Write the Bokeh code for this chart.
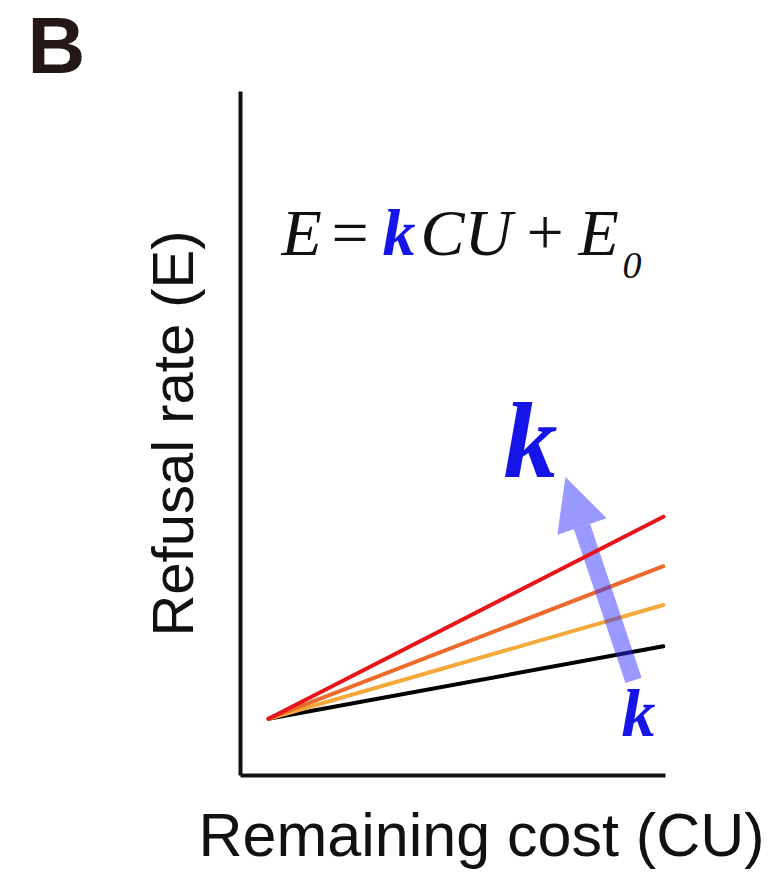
from bokeh.plotting import figure
from bokeh.models import Range1d, Label, Arrow, NormalHead, FixedTicker, Title
from bokeh.embed import file_html
from bokeh.resources import INLINE

# ---- data (conceptual model E = k*CU + E0) ----
cu_values = [0.66, 9.95]
e0 = 0.83
k_values = [0.114, 0.179, 0.240, 0.318]
line_colors = ["#000000", "#f5a93a", "#ec6a2c", "#e8161c"]
x_label = "Remaining cost (CU)"
y_label = "Refusal rate (E)"
panel_letter = "B"

# ---- page-pixel -> data helpers (frame: x 240..665, y 92..775 on page) ----
FL, FR, FT, FB = 240, 665, 92, 775
def X(px):
    return (px - FL) / (FR - FL) * 10
def Y(py):
    return (FB - py) / (FB - FT) * 10

W, H = 780, 882
p = figure(width=W, height=H, output_backend="svg", toolbar_location=None,
           x_range=Range1d(0, 10), y_range=Range1d(0, 10),
           min_border_left=FL, min_border_right=W - FR,
           min_border_top=88, min_border_bottom=H - FB)
p.outline_line_color = None
p.grid.visible = False
p.background_fill_color = "white"
p.border_fill_color = "white"

serif = "Liberation Serif"
sans = "Liberation Sans"
blue = "#1515e8"

# panel letter as the figure title
p.title.text = panel_letter
p.title.align = "left"
p.title.vertical_align = "top"
p.title.offset = -213
p.title.text_font = sans
p.title.text_font_style = "bold"
p.title.text_font_size = "80px"
p.title.text_color = "#231815"
p.title.standoff = 0

for ax in (p.xaxis[0], p.yaxis[0]):
    ax.ticker = FixedTicker(ticks=[])
    ax.major_tick_line_color = None
    ax.minor_tick_line_color = None
    ax.major_label_text_font_size = "0px"
    ax.axis_line_width = 4
    ax.axis_line_color = "#111111"

p.yaxis[0].axis_label = y_label
p.yaxis[0].axis_label_text_font = sans
p.yaxis[0].axis_label_text_font_style = "normal"
p.yaxis[0].axis_label_text_font_size = "58px"
p.yaxis[0].axis_label_text_color = "#111111"
p.yaxis[0].axis_label_standoff = 36

# spacer between the x axis and its label, then the label itself
p.add_layout(Title(text=" ", text_font_size="10px", standoff=10), "below")
p.add_layout(Title(text=x_label, align="left", offset=-42, text_font=sans,
                   text_font_style="normal", text_font_size="61px",
                   text_color="#111111", standoff=0, vertical_align="bottom"), "below")

# lines
renderers = []
for k, c in zip(k_values, line_colors):
    ys = [k * (x - cu_values[0]) + e0 for x in cu_values]
    r = p.line(cu_values, ys, line_color=c, line_width=4, line_cap="round")
    renderers.append(r)
renderers[-1].level = "overlay"

# arrow indicating increasing k
arrow = Arrow(end=NormalHead(size=52, fill_color="#2a2aff", fill_alpha=0.48, line_color=None),
              x_start=X(633), y_start=Y(680), x_end=X(565), y_end=Y(477),
              line_color="#2a2aff", line_alpha=0.48, line_width=17, line_cap="butt")
p.add_layout(arrow)

def lab(txt, px, py, size, font=serif, style="italic", color="#111111", align="left"):
    p.add_layout(Label(x=X(px), y=Y(py - 0.37 * size), text=txt, text_font=font,
                       text_font_style=style, text_font_size=f"{size}px",
                       text_color=color, text_align=align, text_baseline="alphabetic"))

# equation E = kCU + E0
lab("E", 281, 257, 66)
lab("=", 331, 257, 66, style="normal")
lab("k", 382, 257, 66, style="bold italic", color=blue)
lab("CU", 420, 257, 66)
lab("+", 526, 257, 66, style="normal")
lab("E", 578, 257, 66)
lab("0", 622, 280, 38)

# k labels
lab("k", 530, 480, 108, style="bold italic", color=blue, align="center")
lab("k", 638, 738, 68, style="bold italic", color=blue, align="center")

open("out.html", "w").write(file_html(p, INLINE))
